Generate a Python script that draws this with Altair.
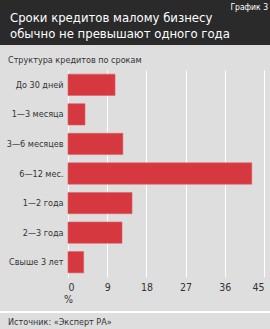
import altair as alt
import pandas as pd

categories = ["До 30 дней", "1—3 месяца", "3—6 месяцев", "6—12 мес.", "1—2 года", "2—3 года", "Свыше 3 лет"]
values = [10.8, 3.9, 12.6, 42.2, 14.7, 12.4, 3.6]
x_ticks = [0, 9, 18, 27, 36, 45]

FONT = "'DejaVu Sans Condensed', 'Roboto', sans-serif"
BG = "#dedede"
DARK = "#2a2a2a"
RED = "#d5383e"

df = pd.DataFrame({"cat": categories, "val": values})

L, T = 68, 70  # plot origin offsets
W, H = 196, 207

bars = alt.Chart(df).mark_bar(color=RED, stroke="#e06066", strokeWidth=0.6).encode(
    x=alt.X("val:Q", scale=alt.Scale(domain=[0, 45], nice=False),
            axis=alt.Axis(values=x_ticks, grid=True, gridColor="white", gridWidth=1,
                          domain=False, ticks=False, labelPadding=5, labelFontSize=10.5,
                          labelColor="#333", labelFont=FONT, title="%",
                          titleFont=FONT, titleFontSize=10.5, titleFontWeight="normal",
                          titleColor="#333", titleX=0, titleAlign="center",
                          titlePadding=2)),
    y=alt.Y("cat:N", sort=categories, scale=alt.Scale(paddingInner=0.28, paddingOuter=0.14),
            axis=alt.Axis(title=None, domain=False, ticks=False, labelPadding=5,
                          labelFontSize=9, labelColor="#333", labelFont=FONT)),
)

header = alt.Chart(df).mark_rect(color=DARK).encode(
    x=alt.value(-L), x2=alt.value(270 - L), y=alt.value(-T), y2=alt.value(45 - T)
)

def txt(text, x, y, size, color, align="left"):
    return alt.Chart(pd.DataFrame({"t": [text]})).mark_text(
        font=FONT, fontSize=size, color=color, align=align, baseline="alphabetic"
    ).encode(text="t:N", x=alt.value(x - L), y=alt.value(y - T))

t1 = txt("Сроки кредитов малому бизнесу", 10, 22, 13, "white")
t2 = txt("обычно не превышают одного года", 10, 38, 13, "white")
t3 = txt("График 3", 268, 10, 8.5, "white", align="right")
t4 = txt("Структура кредитов по срокам", 8, 63, 9, "#333")
t5 = txt("Источник: «Эксперт РА»", 8, 325, 9, "#333")

sep = alt.Chart(df).mark_rule(color="white", strokeWidth=1).encode(
    x=alt.value(-L), x2=alt.value(270 - L), y=alt.value(312 - T)
)

chart = alt.layer(header, bars, sep, t1, t2, t3, t4, t5).properties(
    width=W, height=H,
    autosize=alt.AutoSizeParams(type="none"),
    padding={"left": L, "top": T, "right": 270 - L - W, "bottom": 329 - T - H},
    background=BG,
).configure_view(stroke=None)

chart.save("out.html", embed_options={"renderer": "svg", "actions": False})
